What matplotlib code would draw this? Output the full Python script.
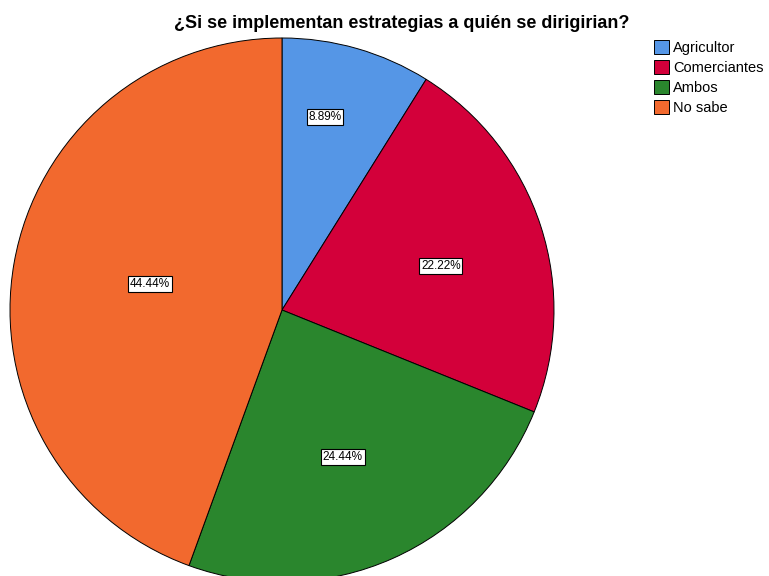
import matplotlib.pyplot as plt
import numpy as np

plt.rcParams['font.family'] = ['Liberation Sans', 'DejaVu Sans']

# datos del gráfico
categorias = ['Agricultor', 'Comerciantes', 'Ambos', 'No sabe']
porcentajes = [8.89, 22.22, 24.44, 44.44]
colores = ['#5596e6', '#d3003a', '#2a862d', '#f2692e']
# posición de cada etiqueta (distancia al centro y giro respecto al centro del sector)
dist_etiquetas = [0.727, 0.606, 0.585, 0.495]
giro_etiquetas = [3.4, -2.5, -1.5, -1.1]

fig = plt.figure(figsize=(7.69, 5.76), dpi=100)
W, H = 769, 576
cx, cy, r = 282, 310, 272
ax = fig.add_axes([(cx - r) / W, (H - cy - r) / H, 2 * r / W, 2 * r / H])

wedges, textos = ax.pie(porcentajes, colors=colores, startangle=90, counterclock=False,
                        radius=1, wedgeprops=dict(edgecolor='black', linewidth=0.7))
for w in wedges:
    w.set_clip_on(False)
ax.set_xlim(-1, 1)
ax.set_ylim(-1, 1)
ax.set_aspect('equal')
ax.axis('off')

# etiquetas de porcentaje
for w, p, d, g in zip(wedges, porcentajes, dist_etiquetas, giro_etiquetas):
    ang = np.deg2rad((w.theta1 + w.theta2) / 2 + g)
    ax.text(d * np.cos(ang), d * np.sin(ang), f'{p:.2f}%', ha='center', va='center',
            fontsize=8.5, bbox=dict(facecolor='white', edgecolor='black', linewidth=0.8, pad=1.2))

fig.text(402 / W, 1 - 24 / H, '¿Si se implementan estrategias a quién se dirigirian?',
         ha='center', va='center', fontsize=13, fontweight='bold')

fig.legend(wedges, categorias, loc='upper left', bbox_to_anchor=(654 / W, 1 - 40 / H),
           frameon=False, fontsize=10.5, handlelength=1.0, handleheight=1.1,
           handletextpad=0.3, labelspacing=0.35, borderaxespad=0, borderpad=0)

fig.savefig('out.png', dpi=100)
